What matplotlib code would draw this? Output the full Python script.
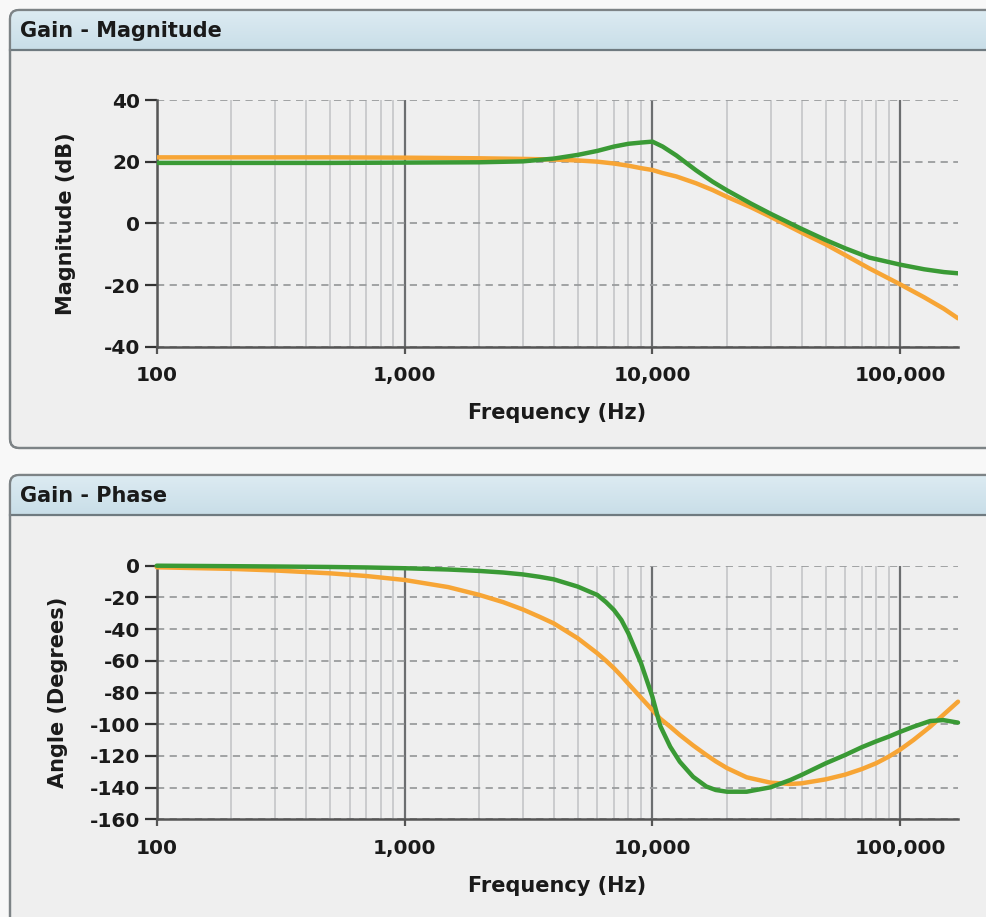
import numpy as np
import matplotlib
matplotlib.use("Agg")
import matplotlib.pyplot as plt
from matplotlib.patches import FancyBboxPatch
from matplotlib.ticker import FixedLocator, NullFormatter

# ---------------- data ----------------
freq_mag = [100, 200, 500, 1000, 2000, 3000, 4000, 5000, 6000, 7000, 8000, 9000,
            10000, 11000, 12500, 15000, 17500, 20000, 25000, 30000, 40000, 50000,
            60000, 75000, 100000, 125000, 150000, 171000]
mag_green = [19.6, 19.6, 19.6, 19.7, 19.8, 20.1, 21.0, 22.2, 23.5, 24.9, 25.8, 26.2,
             26.5, 24.9, 22.0, 17.2, 13.5, 10.7, 6.4, 3.1, -1.8, -5.4,
             -8.1, -11.1, -13.4, -14.9, -15.8, -16.2]
mag_orange = [21.4, 21.4, 21.4, 21.3, 21.1, 20.9, 20.7, 20.4, 20.0, 19.4, 18.7, 17.9,
              17.3, 16.3, 15.2, 13.0, 10.8, 8.6, 5.2, 2.1, -3.0, -6.8,
              -10.3, -14.6, -19.8, -24.0, -27.7, -30.8]

freq_phase = [100, 200, 300, 500, 700, 1000, 1500, 2000, 2500, 3000, 3500, 4000, 5000,
              6000, 6500, 7000, 7500, 8000, 9000, 10000, 10750, 11800, 12900, 14600,
              16500, 18000, 20000, 24000, 30000, 36000, 40000, 50000, 60000, 70000,
              80000, 90000, 100000, 113000, 132000, 149000, 171000]
phase_green = [0.0, -0.3, -0.5, -0.8, -1.1, -1.6, -2.4, -3.3, -4.3, -5.5, -7.0, -8.6, -13.2,
               -18.5, -23.0, -28.0, -34.3, -42.7, -61.6, -82.7, -101.0, -114.2, -123.7, -133.2,
               -139.3, -141.5, -142.6, -142.6, -139.8, -135.2, -132.0, -124.7, -119.4, -114.5,
               -110.8, -107.8, -104.8, -101.6, -98.0, -97.4, -99.0]
phase_orange = [-1.0, -2.0, -3.0, -4.8, -6.5, -9.0, -13.5, -18.4, -23.0, -27.6, -32.2, -36.4, -45.8,
                -55.3, -60.0, -64.7, -69.6, -74.5, -83.3, -91.1, -96.5, -101.6, -106.8, -113.4,
                -119.4, -123.4, -127.7, -133.5, -136.9, -137.7, -137.3, -134.8, -131.8, -128.3,
                -124.6, -120.4, -116.0, -110.0, -101.6, -94.2, -85.8]

xticks = [100, 1000, 10000, 100000]
xtick_labels = ["100", "1,000", "10,000", "100,000"]
mag_ticks = [-40, -20, 0, 20, 40]
phase_ticks = [0, -20, -40, -60, -80, -100, -120, -140, -160]

titles = ["Gain - Magnitude", "Gain - Phase"]
xlabel = "Frequency (Hz)"
ylabels = ["Magnitude (dB)", "Angle (Degrees)"]

GREEN = "#3a9a35"
ORANGE = "#f7a535"

W, H = 987, 917
plt.rcParams['font.family'] = ['DejaVu Sans']
plt.rcParams['axes.unicode_minus'] = False
fig = plt.figure(figsize=(W / 100, H / 100), dpi=100)
fig.patch.set_facecolor("#f8f8f8")

bg = fig.add_axes([0, 0, 1, 1], zorder=-5)
bg.set_xlim(0, W)
bg.set_ylim(H, 0)
bg.axis("off")

def panel(top, bottom, title):
    p = FancyBboxPatch((10, top), 1010, bottom - top,
                       boxstyle="round,pad=0,rounding_size=9",
                       facecolor="#efefef", edgecolor="#7d8386", linewidth=1.6)
    bg.add_patch(p)
    grad = np.linspace(0, 1, 50).reshape(-1, 1)
    cmap = matplotlib.colors.LinearSegmentedColormap.from_list("h", ["#dcebf2", "#c9dee8"])
    im = bg.imshow(grad, cmap=cmap, extent=[10, 1020, top + 40, top], aspect="auto", zorder=1)
    im.set_clip_path(p)
    bg.plot([10, 1020], [top + 40, top + 40], color="#6f7a80", lw=1.6, zorder=2)
    bg.text(20, top + 21, title, fontsize=15, fontweight="bold", color="#1a1a1a",
            va="center", ha="left", zorder=3)
    bg.add_patch(FancyBboxPatch((10, top), 1010, bottom - top,
                                boxstyle="round,pad=0,rounding_size=9",
                                facecolor="none", edgecolor="#7d8386", linewidth=1.6, zorder=4))

panel(10, 448, titles[0])
panel(475, 960, titles[1])

def fx(px):
    return px / W

def fy(py):
    return 1 - py / H

left, right = 156.7, 958
ax1 = fig.add_axes([fx(left), fy(346.7), fx(right - left), fy(100) - fy(346.7)])
ax2 = fig.add_axes([fx(left), fy(819.3), fx(right - left), fy(565.7) - fy(819.3)])

minor = [m * d for d in (100, 1000, 10000, 100000) for m in range(2, 10)]

def style(ax, yticks, ylim, ylabel, ylab_x):
    ax.set_facecolor("none")
    ax.set_xscale("log")
    ax.set_xlim(100, 171000)
    ax.set_ylim(*ylim)
    ax.xaxis.set_major_locator(FixedLocator(xticks))
    ax.set_xticklabels(xtick_labels)
    ax.xaxis.set_minor_locator(FixedLocator([m for m in minor if m < 171000]))
    ax.xaxis.set_minor_formatter(NullFormatter())
    ax.set_yticks(yticks)
    for s in ("top", "right"):
        ax.spines[s].set_visible(False)
    for s in ("left", "bottom"):
        ax.spines[s].set_color("#555555")
        ax.spines[s].set_linewidth(1.8)
    ax.tick_params(axis="y", direction="out", length=9, width=1.6, color="#333333",
                   labelsize=14.5, pad=3, labelcolor="#1a1a1a")
    ax.tick_params(axis="x", which="major", direction="out", length=5, width=1.6,
                   color="#555555", labelsize=14.5, pad=9, labelcolor="#1a1a1a")
    ax.tick_params(axis="x", which="minor", length=0)
    for lab in ax.get_xticklabels() + ax.get_yticklabels():
        lab.set_fontweight("bold")
    ax.grid(True, axis="x", which="minor", color="#c4c6c8", lw=1.2, ls="-")
    ax.grid(True, axis="x", which="major", color="#6c6e70", lw=1.6, ls="-")
    ax.grid(True, axis="y", which="major", color="#9a9c9e", lw=1.3, ls=(0, (4, 3)))
    ax.set_axisbelow(True)
    ax.set_xlabel(xlabel, fontsize=15, fontweight="bold", labelpad=13, color="#1a1a1a")
    ax.set_ylabel(ylabel, fontsize=15, fontweight="bold", color="#1a1a1a")
    ax.yaxis.set_label_coords(ylab_x, 0.5)

style(ax1, mag_ticks, (-40, 40), ylabels[0], (76 - left) / (right - left))
style(ax2, phase_ticks, (-160, 0), ylabels[1], (68 - left) / (right - left))

ax1.plot(freq_mag, mag_orange, color=ORANGE, lw=3.2, solid_capstyle="round", zorder=3)
ax1.plot(freq_mag, mag_green, color=GREEN, lw=3.2, solid_capstyle="round", zorder=4)
ax2.plot(freq_phase, phase_orange, color=ORANGE, lw=3.2, solid_capstyle="round", zorder=3, clip_on=False)
ax2.plot(freq_phase, phase_green, color=GREEN, lw=3.2, solid_capstyle="round", zorder=4, clip_on=False)

fig.savefig("out.png", dpi=100, facecolor=fig.get_facecolor())
